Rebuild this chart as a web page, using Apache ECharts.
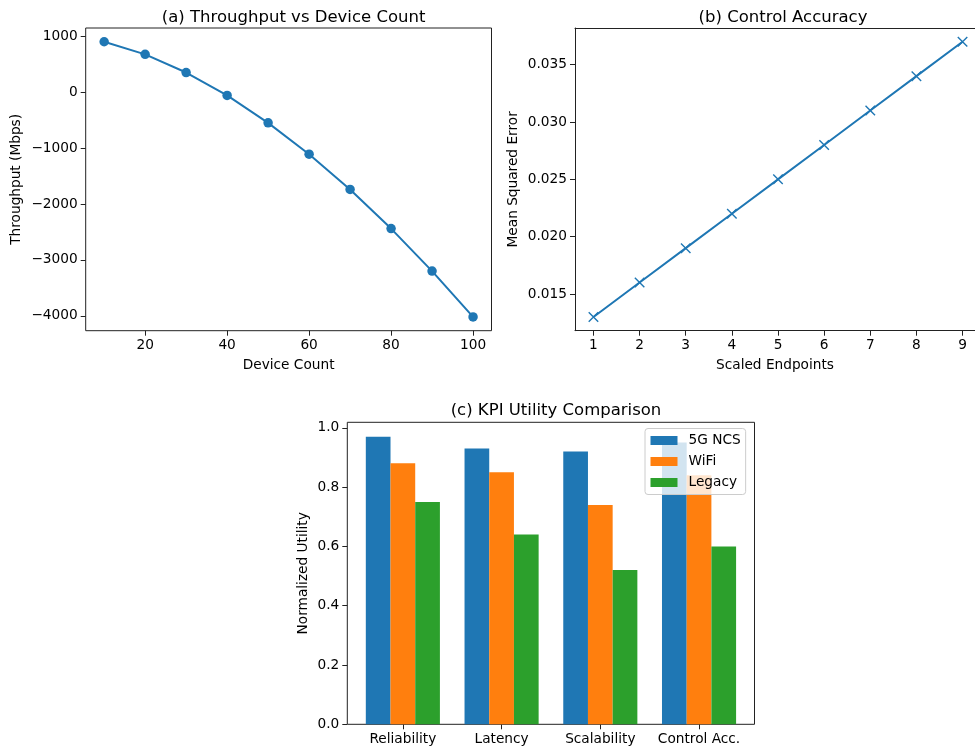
<!DOCTYPE html>
<html>
<head>
<meta charset="utf-8">
<script src="https://cdn.jsdelivr.net/npm/echarts@6/dist/echarts.min.js"></script>
<style>
  html, body { margin: 0; padding: 0; background: #ffffff; }
  #chart { width: 975px; height: 751px; }
</style>
</head>
<body>
<div id="chart"></div>
<script>
// (a) throughput against number of devices
const deviceCount = [10, 20, 30, 40, 50, 60, 70, 80, 90, 100];
const throughput = [900, 675, 350, -60, -550, -1110, -1740, -2440, -3200, -4020];
const deviceTicks = [20, 40, 60, 80, 100];
const throughputTicks = [-4000, -3000, -2000, -1000, 0, 1000];

// (b) control accuracy against scaled endpoints
const endpoints = [1, 2, 3, 4, 5, 6, 7, 8, 9];
const mse = [0.013, 0.016, 0.019, 0.022, 0.025, 0.028, 0.031, 0.034, 0.037];
const endpointTicks = [1, 2, 3, 4, 5, 6, 7, 8, 9];
const mseTicks = [0.015, 0.020, 0.025, 0.030, 0.035];

// (c) KPI utility per technology
const kpiCategories = ['Reliability', 'Latency', 'Scalability', 'Control Acc.'];
const ncs5g = [0.97, 0.93, 0.92, 0.95];
const wifi = [0.88, 0.85, 0.74, 0.84];
const legacy = [0.75, 0.64, 0.52, 0.60];
const utilityTicks = [0.0, 0.2, 0.4, 0.6, 0.8, 1.0];

const FONT = 'DejaVu Sans';
const TICK_SIZE = 13.7;
const TITLE_SIZE = 16.5;
const FRAME = '#222222';
const C1 = '#1f77b4', C2 = '#ff7f0e', C3 = '#2ca02c';

// pad a data range by a fraction of its span on each side
function padded(values, frac) {
  const lo = Math.min.apply(null, values), hi = Math.max.apply(null, values);
  const m = (hi - lo) * frac;
  return [lo - m, hi + m];
}
const minus = s => String(s).replace('-', '\u2212');

const aX = padded(deviceCount, 0.05), aY = padded(throughput, 0.05);
const bX = padded(endpoints, 0.05), bY = padded(mse, 0.05);
const cY = [0, Math.max.apply(null, ncs5g.concat(wifi, legacy)) * 1.05];

// panel (b) runs off the right edge of the page: keep its scale, cut its extent
const B_LEFT = 575, B_FULL_WIDTH = 981 - 575, B_SHOWN_WIDTH = 975 - 575;
const bXShown = [bX[0], bX[0] + (bX[1] - bX[0]) * B_SHOWN_WIDTH / B_FULL_WIDTH];

const tickStyle = { show: true, inside: false, length: 5, lineStyle: { color: FRAME, width: 1 } };
const labelBase = { color: '#000', fontFamily: FONT, fontSize: TICK_SIZE };
const nameBase = { color: '#000', fontFamily: FONT, fontSize: TICK_SIZE };

function valueAxis(extent, ticks, fmt, extra) {
  return Object.assign({
    type: 'value', min: extent[0], max: extent[1],
    axisLine: { show: false, onZero: false },
    splitLine: { show: false },
    axisTick: Object.assign({ customValues: ticks }, tickStyle),
    axisLabel: Object.assign({ customValues: ticks, formatter: fmt, margin: 8 }, labelBase),
    nameTextStyle: nameBase, nameLocation: 'middle'
  }, extra || {});
}

const chart = echarts.init(document.getElementById('chart'), null, { renderer: 'canvas' });

const titleStyle = { fontFamily: FONT, fontSize: TITLE_SIZE, fontWeight: 'normal', color: '#000' };
const spine = { show: true, onZero: false, lineStyle: { color: FRAME, width: 1 } };

const option = {
  backgroundColor: '#ffffff',
  animation: false,
  title: [
    { text: '(a) Throughput vs Device Count', left: 288.6, top: 4, textAlign: 'center', textStyle: titleStyle },
    { text: '(b) Control Accuracy', left: 778, top: 4, textAlign: 'center', textStyle: titleStyle },
    { text: '(c) KPI Utility Comparison', left: 551, top: 397, textAlign: 'center', textStyle: titleStyle }
  ],
  legend: {
    data: ['5G NCS', 'WiFi', 'Legacy'],
    orient: 'vertical',
    left: 645, top: 428.5,
    icon: 'rect',
    itemWidth: 27, itemHeight: 9, itemGap: 5,
    padding: [4, 5, 4, 5.5],
    backgroundColor: 'rgba(255,255,255,0.8)',
    borderColor: '#cccccc', borderWidth: 1, borderRadius: 3,
    textStyle: { fontFamily: FONT, fontSize: TICK_SIZE, color: '#000', padding: [0, 0, 0, 6], lineHeight: 16 }
  },
  grid: [
    { left: 85.7, top: 28, width: 491.5 - 85.7, height: 330.7 - 28,
      show: true, borderColor: FRAME, borderWidth: 1, backgroundColor: 'transparent' },
    // panel (b): spines drawn by its axes, no right edge on the page
    { left: B_LEFT, top: 28, width: B_SHOWN_WIDTH, height: 330.7 - 28, show: false },
    // frame of panel (c)
    { left: 347.3, top: 422.3, width: 754.5 - 347.3, height: 724.3 - 422.3,
      show: true, borderColor: FRAME, borderWidth: 1, backgroundColor: 'transparent' },
    // bar area of panel (c): one category band per KPI
    { left: 353.5, top: 422.3, width: 748.4 - 353.5, height: 724.3 - 422.3, show: false }
  ],
  xAxis: [
    valueAxis(aX, deviceTicks, v => minus(v), { gridIndex: 0, name: 'Device Count', nameGap: 28 }),
    valueAxis(bXShown, endpointTicks, v => String(v),
      { gridIndex: 1, name: 'Scaled Endpoints', nameGap: 28, axisLine: spine }),
    { type: 'category', gridIndex: 3, data: kpiCategories,
      axisLine: { show: false, onZero: false },
      axisTick: Object.assign({ alignWithLabel: true }, tickStyle),
      axisLabel: Object.assign({ margin: 8, interval: 0 }, labelBase),
      splitLine: { show: false } },
    // top spine of panel (b)
    { type: 'value', gridIndex: 1, position: 'top', min: bXShown[0], max: bXShown[1],
      axisLine: spine, axisTick: { show: false }, axisLabel: { show: false }, splitLine: { show: false } }
  ],
  yAxis: [
    valueAxis(aY, throughputTicks, v => minus(v), { gridIndex: 0, name: 'Throughput (Mbps)', nameGap: 62 }),
    valueAxis(bY, mseTicks, v => v.toFixed(3),
      { gridIndex: 1, name: 'Mean Squared Error', nameGap: 55, axisLine: spine }),
    valueAxis(cY, utilityTicks, v => v.toFixed(1), { gridIndex: 2, name: 'Normalized Utility', nameGap: 37 }),
    { type: 'value', gridIndex: 3, min: cY[0], max: cY[1], show: false }
  ],
  series: [
    { type: 'line', xAxisIndex: 0, yAxisIndex: 0,
      data: deviceCount.map((d, i) => [d, throughput[i]]),
      symbol: 'circle', symbolSize: 9.5,
      lineStyle: { color: C1, width: 2 },
      itemStyle: { color: C1 } },
    { type: 'line', xAxisIndex: 1, yAxisIndex: 1,
      data: endpoints.map((d, i) => [d, mse[i]]),
      symbol: 'path://M0,0L10,10M10,0L0,10', symbolSize: 9.5,
      lineStyle: { color: C1, width: 2 },
      itemStyle: { color: 'transparent', borderColor: C1, borderWidth: 1.4 } },
    { name: '5G NCS', type: 'bar', xAxisIndex: 2, yAxisIndex: 3, data: ncs5g,
      barWidth: 24.7, barGap: '0%', itemStyle: { color: C1 } },
    { name: 'WiFi', type: 'bar', xAxisIndex: 2, yAxisIndex: 3, data: wifi,
      barWidth: 24.7, barGap: '0%', itemStyle: { color: C2 } },
    { name: 'Legacy', type: 'bar', xAxisIndex: 2, yAxisIndex: 3, data: legacy,
      barWidth: 24.7, barGap: '0%', itemStyle: { color: C3 } }
  ]
};

// panel (c) frame grid needs an x axis of its own
option.xAxis.push({ type: 'value', gridIndex: 2, min: 0, max: 1, show: false });

chart.setOption(option);
</script>
</body>
</html>
